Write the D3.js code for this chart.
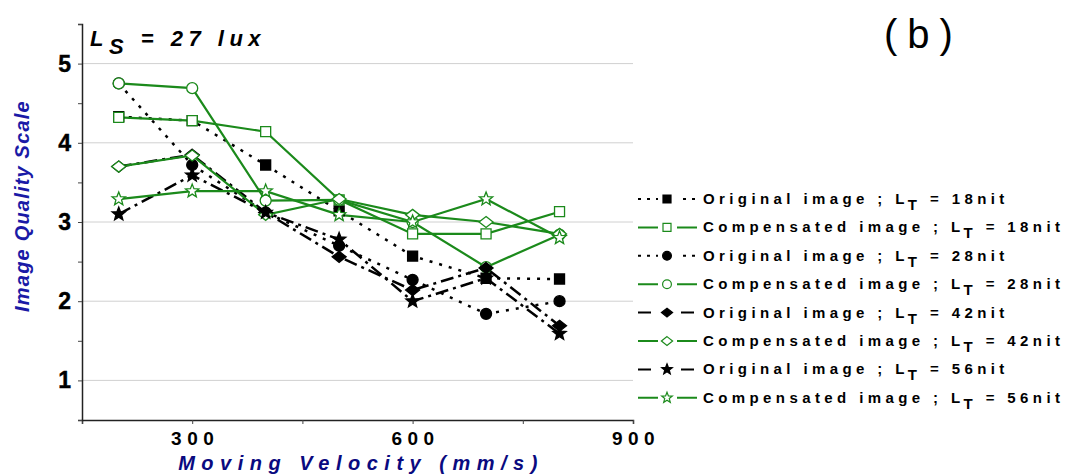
<!DOCTYPE html>
<html>
<head>
<meta charset="utf-8">
<script src="https://cdn.jsdelivr.net/npm/d3@7"></script>
<style>
  body { margin: 0; background: #fff; }
  text { font-family: "Liberation Sans", Arial, sans-serif; }
</style>
</head>
<body>
<div id="chart"></div>
<script>
// data
var velocity = [200, 300, 400, 500, 600, 700, 800];
var orig18 = [4.33, 4.28, 3.72, 3.14, 2.57, 2.29, 2.28];
var comp18 = [4.32, 4.28, 4.14, 3.28, 2.85, 2.85, 3.13];
var orig28 = [4.75, 3.72, 3.12, 2.70, 2.27, 1.84, 2.00];
var comp28 = [4.75, 4.69, 3.27, 3.28, 3.00, 2.43, 2.84];
var orig42 = [3.70, 3.85, 3.12, 2.56, 2.14, 2.42, 1.69];
var comp42 = [3.70, 3.84, 3.09, 3.29, 3.09, 3.00, 2.85];
var orig56 = [3.10, 3.59, 3.12, 2.78, 2.00, 2.29, 1.59];
var comp56 = [3.29, 3.39, 3.39, 3.09, 3.00, 3.29, 2.80];

var yTicks = [1, 2, 3, 4, 5];
var xTicks = [300, 600, 900];
var legendLabels = ["Original image ; L", "Compensated image ; L"];
var nits = ["18nit", "28nit", "42nit", "56nit"];

var green = "#1b8a1b";

// series table (drawing order: originals first, compensated on top)
var series = [
    {name: legendLabels[0], nit: nits[0], values: orig18, shape: "square", fill: "#000", stroke: "#000", dash: "3,7"},
    {name: legendLabels[1], nit: nits[0], values: comp18, shape: "square", fill: "#fff", stroke: green, dash: null},
    {name: legendLabels[0], nit: nits[1], values: orig28, shape: "circle", fill: "#000", stroke: "#000", dash: "3,7"},
    {name: legendLabels[1], nit: nits[1], values: comp28, shape: "circle", fill: "#fff", stroke: green, dash: null},
    {name: legendLabels[0], nit: nits[2], values: orig42, shape: "diamond", fill: "#000", stroke: "#000", dash: "13,5,3,5"},
    {name: legendLabels[1], nit: nits[2], values: comp42, shape: "diamond", fill: "#fff", stroke: green, dash: null},
    {name: legendLabels[0], nit: nits[3], values: orig56, shape: "star", fill: "#000", stroke: "#000", dash: "13,5,3,5"},
    {name: legendLabels[1], nit: nits[3], values: comp56, shape: "star", fill: "#fff", stroke: green, dash: null}
];

var width = 1070, height = 474;
var plot = {left: 82, right: 633, top: 24, bottom: 420};

var x = d3.scaleLinear().domain([150, 900]).range([plot.left, plot.right]);
var y = d3.scaleLinear().domain([0.5, 5.5]).range([plot.bottom, plot.top]);

var svg = d3.select("#chart").append("svg")
    .attr("width", width)
    .attr("height", height);

// marker shapes
function markerPath(shape, s) {
    if (shape === "square") {
        var h = 5 * s;
        return "M" + (-h) + "," + (-h) + "H" + h + "V" + h + "H" + (-h) + "Z";
    }
    if (shape === "circle") {
        var r = 5.5 * s;
        return "M" + r + ",0A" + r + "," + r + " 0 1,1 " + (-r) + ",0A" + r + "," + r + " 0 1,1 " + r + ",0Z";
    }
    if (shape === "diamond") {
        var w = 7 * s, hh = 5.5 * s;
        return "M0," + (-hh) + "L" + w + ",0L0," + hh + "L" + (-w) + ",0Z";
    }
    // five point star
    var pts = [];
    for (var i = 0; i < 10; i++) {
        var rr = (i % 2 === 0 ? 7 : 3) * s;
        var a = -Math.PI / 2 + i * Math.PI / 5;
        pts.push([rr * Math.cos(a), rr * Math.sin(a)]);
    }
    return "M" + pts.map(p => p[0].toFixed(2) + "," + p[1].toFixed(2)).join("L") + "Z";
}

// gridlines
svg.append("g")
    .selectAll("line")
    .data(yTicks)
    .join("line")
    .attr("x1", plot.left)
    .attr("x2", plot.right)
    .attr("y1", d => y(d))
    .attr("y2", d => y(d))
    .attr("stroke", "#d0d0d0")
    .attr("stroke-width", 1);

// x axis
var xAxis = svg.append("g")
    .attr("transform", "translate(0," + plot.bottom + ")")
    .call(d3.axisBottom(x).tickValues([150, 300, 450, 600, 750, 900]).tickSize(4).tickFormat(""));
xAxis.select(".domain").attr("stroke", "#222").attr("stroke-width", 1.5);
xAxis.selectAll(".tick line").attr("stroke", "#444");

svg.append("g")
    .selectAll("text")
    .data(xTicks)
    .join("text")
    .attr("x", d => x(d) + 3)
    .attr("y", plot.bottom + 25)
    .attr("text-anchor", "middle")
    .attr("font-size", 19)
    .attr("font-weight", "bold")
    .attr("letter-spacing", "5.5px")
    .text(d => d);

// y axis
var yAxis = svg.append("g")
    .attr("transform", "translate(" + plot.left + ",0)")
    .call(d3.axisLeft(y).tickValues(d3.range(0.5, 5.51, 0.5)).tickSize(4).tickFormat(""));
yAxis.select(".domain").attr("stroke", "#222").attr("stroke-width", 1.5);
yAxis.selectAll(".tick line").attr("stroke", "#444");

svg.append("g")
    .selectAll("text")
    .data(yTicks)
    .join("text")
    .attr("x", plot.left - 11)
    .attr("y", d => y(d) + 8)
    .attr("text-anchor", "end")
    .attr("font-size", 23)
    .attr("font-weight", "bold")
    .attr("stroke", "#000")
    .attr("stroke-width", 0.4)
    .text(d => d);

// lines and markers
var line = d3.line()
    .x((d, i) => x(velocity[i]))
    .y(d => y(d));

series.forEach(function (s) {
    svg.append("path")
        .datum(s.values)
        .attr("fill", "none")
        .attr("stroke", s.stroke)
        .attr("stroke-width", s.dash ? 2.5 : 2.2)
        .attr("stroke-dasharray", s.dash)
        .attr("d", line);
});

series.forEach(function (s) {
    svg.append("g")
        .selectAll("path")
        .data(s.values)
        .join("path")
        .attr("transform", (d, i) => "translate(" + x(velocity[i]) + "," + y(d) + ")")
        .attr("d", markerPath(s.shape, 1))
        .attr("fill", s.fill)
        .attr("stroke", s.stroke)
        .attr("stroke-width", 1.3);
});

// legend
var legend = svg.append("g")
    .attr("transform", "translate(638,199)");

var rows = legend.selectAll("g")
    .data(series)
    .join("g")
    .attr("transform", (d, i) => "translate(0," + (i * 28.4) + ")");

rows.append("line")
    .attr("x1", 0)
    .attr("x2", 59)
    .attr("y1", 0)
    .attr("y2", 0)
    .attr("stroke", d => d.stroke)
    .attr("stroke-width", 2)
    .attr("stroke-dasharray", d => d.dash ? (d.dash === "3,7" ? "3,6" : "13,30") : null);

rows.append("rect")
    .attr("x", 20)
    .attr("y", -6)
    .attr("width", 19)
    .attr("height", 12)
    .attr("fill", "#fff");

rows.append("path")
    .attr("transform", "translate(29,0)")
    .attr("d", d => markerPath(d.shape, 0.8))
    .attr("fill", d => d.fill)
    .attr("stroke", d => d.stroke)
    .attr("stroke-width", 1.2);

var lt = rows.append("text")
    .attr("x", 65)
    .attr("y", 5)
    .attr("font-size", 15)
    .attr("font-weight", "bold")
    .attr("letter-spacing", "4.4px");
lt.append("tspan").text(d => d.name);
lt.append("tspan").attr("dy", 6).text("T");
lt.append("tspan").attr("dy", -6).text(d => " = " + d.nit);

// annotation L_S = 27 lux
var ls = svg.append("text")
    .attr("x", 90)
    .attr("y", 46)
    .attr("font-size", 22)
    .attr("font-weight", "bold")
    .attr("font-style", "italic")
    .attr("letter-spacing", "5.5px");
ls.append("tspan").text("L");
ls.append("tspan").attr("dy", 8).text("S");
ls.append("tspan").attr("dy", -8).text(" = 27 lux");

// panel label
svg.append("text")
    .attr("x", 884)
    .attr("y", 48)
    .attr("font-family", "DejaVu Sans, sans-serif")
    .attr("font-size", 40)
    .attr("letter-spacing", "10px")
    .text("(b)");

// axis titles
svg.append("text")
    .attr("transform", "translate(29,206) rotate(-90)")
    .attr("text-anchor", "middle")
    .attr("font-size", 20)
    .attr("font-weight", "bold")
    .attr("font-style", "italic")
    .attr("letter-spacing", "1.2px")
    .attr("fill", "#1a1aa6")
    .text("Image Quality Scale");

svg.append("text")
    .attr("x", 361)
    .attr("y", 470)
    .attr("text-anchor", "middle")
    .attr("font-size", 20)
    .attr("font-weight", "bold")
    .attr("font-style", "italic")
    .attr("letter-spacing", "6.5px")
    .attr("fill", "#0a0a80")
    .text("Moving Velocity (mm/s)");
</script>
</body>
</html>
